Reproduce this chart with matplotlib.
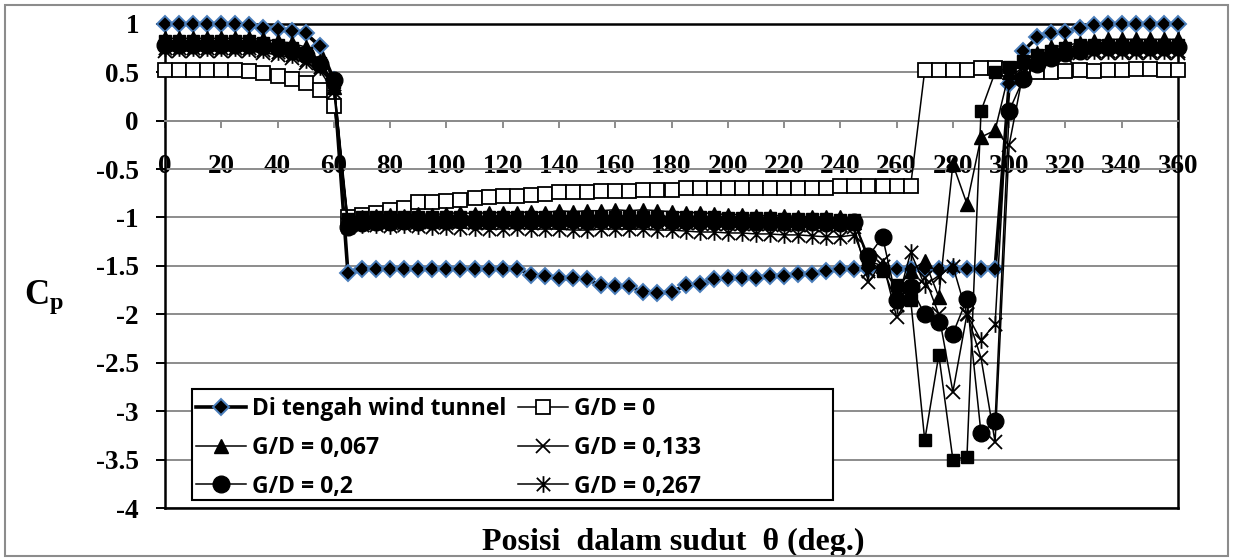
import matplotlib
matplotlib.use("Agg")
import matplotlib.pyplot as plt
from matplotlib.path import Path
from matplotlib.patches import Rectangle

# ---------------- data ----------------
theta = list(range(0, 365, 5))

cp_tengah = [1.00, 1.00, 1.00, 1.00, 1.00, 1.00, 0.99, 0.96, 0.95, 0.93, 0.90, 0.77, 0.42,
             -1.57, -1.53, -1.53, -1.53, -1.53, -1.53, -1.53, -1.53, -1.53, -1.53, -1.53, -1.53, -1.53,
             -1.59, -1.60, -1.63, -1.63, -1.64, -1.70, -1.71, -1.71, -1.77, -1.78, -1.77, -1.70, -1.69,
             -1.64, -1.63, -1.63, -1.62, -1.60, -1.60, -1.58, -1.58, -1.55, -1.53, -1.53,
             -1.53, -1.53, -1.53, -1.53, -1.53, -1.53, -1.53, -1.53, -1.53, -1.53,
             0.38, 0.72, 0.86, 0.90, 0.92, 0.96, 0.99, 1.00, 1.00, 1.00, 1.00, 1.00, 1.00]

cp_gd0 = [0.52, 0.52, 0.52, 0.52, 0.52, 0.52, 0.51, 0.49, 0.46, 0.43, 0.39, 0.32, 0.15,
          -1.00, -0.97, -0.95, -0.92, -0.90, -0.84, -0.84, -0.83, -0.82, -0.80, -0.79, -0.78, -0.78,
          -0.77, -0.76, -0.74, -0.74, -0.74, -0.73, -0.73, -0.73, -0.72, -0.72, -0.72, -0.70, -0.70,
          -0.70, -0.70, -0.70, -0.70, -0.70, -0.70, -0.70, -0.70, -0.70, -0.68, -0.68,
          -0.68, -0.67, -0.67, -0.67, 0.52, 0.52, 0.52, 0.52, 0.54, 0.54,
          0.53, 0.52, 0.50, 0.50, 0.51, 0.52, 0.51, 0.52, 0.52, 0.53, 0.53, 0.52, 0.52]

cp_gd0067 = [0.85, 0.85, 0.85, 0.85, 0.85, 0.85, 0.85, 0.84, 0.82, 0.80, 0.76, 0.62, 0.35,
             -1.05, -1.00, -0.98, -0.97, -0.98, -0.96, -0.97, -0.96, -0.95, -0.96, -0.95, -0.95, -0.95,
             -0.94, -0.95, -0.93, -0.94, -0.93, -0.93, -0.92, -0.93, -0.92, -0.93, -0.94, -0.95, -0.95,
             -0.96, -0.97, -0.97, -0.98, -0.98, -0.98, -0.99, -0.99, -1.00, -1.00, -1.05,
             -1.45, -1.50, -1.75, -1.55, -1.45, -1.82, -0.45, -0.86, -0.17, -0.10,
             0.50, 0.62, 0.70, 0.76, 0.78, 0.80, 0.82, 0.84, 0.84, 0.84, 0.84, 0.84, 0.84]

cp_gd0133 = [0.72, 0.72, 0.72, 0.72, 0.72, 0.72, 0.72, 0.70, 0.68, 0.65, 0.60, 0.52, 0.30,
             -1.08, -1.06, -1.06, -1.05, -1.06, -1.05, -1.05, -1.06, -1.05, -1.06, -1.06, -1.06, -1.05,
             -1.06, -1.06, -1.05, -1.06, -1.06, -1.05, -1.06, -1.06, -1.05, -1.06, -1.06, -1.06, -1.06,
             -1.07, -1.07, -1.07, -1.07, -1.07, -1.08, -1.08, -1.08, -1.08, -1.08, -1.10,
             -1.67, -1.45, -2.03, -1.80, -1.62, -2.00, -2.80, -2.00, -2.45, -3.32,
             -0.25, 0.50, 0.60, 0.64, 0.67, 0.70, 0.70, 0.70, 0.70, 0.70, 0.70, 0.70, 0.70]

cp_gd02 = [0.78, 0.78, 0.78, 0.78, 0.78, 0.78, 0.78, 0.77, 0.75, 0.72, 0.68, 0.58, 0.42,
           -1.10, -1.06, -1.05, -1.05, -1.04, -1.05, -1.04, -1.04, -1.03, -1.04, -1.04, -1.03, -1.04,
           -1.04, -1.03, -1.04, -1.03, -1.04, -1.03, -1.03, -1.04, -1.03, -1.03, -1.04, -1.04, -1.04,
           -1.04, -1.04, -1.05, -1.05, -1.05, -1.05, -1.05, -1.05, -1.06, -1.06, -1.05,
           -1.40, -1.20, -1.85, -1.72, -2.00, -2.08, -2.20, -1.84, -3.23, -3.10,
           0.10, 0.43, 0.58, 0.65, 0.70, 0.72, 0.76, 0.76, 0.76, 0.76, 0.76, 0.76, 0.76]

cp_gd0267 = [0.75, 0.75, 0.75, 0.75, 0.75, 0.75, 0.75, 0.73, 0.71, 0.68, 0.63, 0.55, 0.38,
             -1.10, -1.08, -1.08, -1.09, -1.08, -1.09, -1.10, -1.10, -1.11, -1.11, -1.12, -1.12, -1.11,
             -1.12, -1.12, -1.12, -1.13, -1.13, -1.12, -1.12, -1.12, -1.12, -1.13, -1.13, -1.14, -1.15,
             -1.15, -1.16, -1.16, -1.17, -1.17, -1.18, -1.18, -1.19, -1.20, -1.20, -1.18,
             -1.55, -1.50, -1.90, -1.36, -1.70, -1.60, -1.50, -2.00, -2.27, -2.10,
             0.45, 0.55, 0.62, 0.66, 0.70, 0.72, 0.72, 0.72, 0.72, 0.72, 0.72, 0.72, 0.72]

cp_extra = [0.82, 0.82, 0.82, 0.82, 0.82, 0.82, 0.82, 0.80, 0.78, 0.75, 0.70, 0.60, 0.40,
            -1.02, -1.00, -1.00, -1.00, -1.00, -1.00, -1.00, -1.00, -1.00, -1.00, -1.00, -1.00, -1.00,
            -1.00, -1.00, -1.00, -1.00, -1.00, -1.00, -1.00, -1.00, -1.00, -1.00, -1.00, -1.00, -1.00,
            -1.00, -1.01, -1.01, -1.01, -1.01, -1.02, -1.02, -1.02, -1.02, -1.03, -1.03,
            -1.45, -1.55, -1.70, -1.85, -3.30, -2.42, -3.50, -3.47, 0.10, 0.50,
            0.55, 0.62, 0.68, 0.72, 0.75, 0.78, 0.78, 0.78, 0.78, 0.78, 0.78, 0.78, 0.78]

labels = ["Di tengah wind tunnel", "G/D = 0", "G/D = 0,067",
          "G/D = 0,133", "G/D = 0,2", "G/D = 0,267"]
x_ticks = list(range(0, 380, 20))
y_ticks = [1, 0.5, 0, -0.5, -1, -1.5, -2, -2.5, -3, -3.5, -4]

# ---------------- style ----------------
plt.rcParams['mathtext.fontset'] = 'custom'
plt.rcParams['mathtext.rm'] = 'Liberation Serif'
plt.rcParams['mathtext.bf'] = 'Liberation Serif:bold'

serif_bold = dict(family='Liberation Serif', weight='bold')

asterisk = Path([(-1, -1), (1, 1), (-1, 1), (1, -1), (0, -1.25), (0, 1.25)],
                [Path.MOVETO, Path.LINETO, Path.MOVETO, Path.LINETO, Path.MOVETO, Path.LINETO])

W, H = 1233, 560
fig = plt.figure(figsize=(W / 100, H / 100), dpi=100)
ax_left, ax_right, ax_top, ax_bot = 165, 1178, 23.8, 508
ax = fig.add_axes([ax_left / W, 1 - ax_bot / H, (ax_right - ax_left) / W, (ax_bot - ax_top) / H])

fig.patches.append(Rectangle((5 / W, 4 / H), 1223 / W, 551 / H, transform=fig.transFigure,
                             fill=False, edgecolor='#8c8c8c', linewidth=1.5))

ax.set_xlim(0, 360)
ax.set_ylim(-4, 1)

ax.set_yticks(y_ticks)
ax.yaxis.grid(True, color='#8c8c8c', linewidth=1.4)
ax.set_axisbelow(True)

# series
h1, = ax.plot(theta, cp_tengah, color='black', linewidth=2.6, marker='D', markersize=8,
              markerfacecolor='black', markeredgecolor='#4a7ebb', markeredgewidth=1.4,
              clip_on=False, zorder=3)
h2, = ax.plot(theta, cp_gd0, color='black', linewidth=1.1, marker='s', markersize=10,
              markerfacecolor='white', markeredgecolor='black', markeredgewidth=1.3,
              clip_on=False, zorder=4)
h3, = ax.plot(theta, cp_gd0067, color='black', linewidth=1.1, marker='^', markersize=10,
              markerfacecolor='black', markeredgecolor='black', clip_on=False, zorder=5)
hx, = ax.plot(theta, cp_extra, color='black', linewidth=1.1, marker='s', markersize=9,
              markerfacecolor='black', markeredgecolor='black', clip_on=False, zorder=5)
h4, = ax.plot(theta, cp_gd0133, color='black', linewidth=1.1, marker='x', markersize=10,
              markeredgecolor='black', markeredgewidth=1.3, clip_on=False, zorder=6)
h5, = ax.plot(theta, cp_gd02, color='black', linewidth=1.1, marker='o', markersize=12,
              markerfacecolor='black', markeredgecolor='black', clip_on=False, zorder=7)
h6, = ax.plot(theta, cp_gd0267, color='black', linewidth=1.1, marker=asterisk, markersize=12,
              markeredgecolor='black', markeredgewidth=1.3, clip_on=False, zorder=8)

# spines
for s in ['left', 'top', 'right']:
    ax.spines[s].set_color('black')
    ax.spines[s].set_linewidth(1.8)
ax.spines['bottom'].set_position(('data', 0))
ax.spines['bottom'].set_color('#8c8c8c')
ax.spines['bottom'].set_linewidth(1.4)
ax.axhline(-4, color='black', linewidth=1.8, clip_on=False, zorder=2)

ax.set_xticks(x_ticks)
ax.set_xticklabels([str(v) for v in x_ticks], fontsize=19.5, **serif_bold)
ax.set_yticklabels([('%g' % v) for v in y_ticks], fontsize=19.5, **serif_bold)
ax.tick_params(axis='x', direction='out', length=5, width=1.4, color='#8c8c8c', pad=19)
ax.tick_params(axis='y', direction='out', length=6.8, width=1.4, color='black', pad=12)

ax.set_ylabel(r'$\mathbf{C_p}$', fontsize=25, rotation=0, ha='center', va='center')
ax.yaxis.set_label_coords(-0.1195, 0.436)
ax.set_xlabel('Posisi  dalam sudut  \u03b8 (deg.)', fontsize=23, va='center', **serif_bold)
ax.xaxis.set_label_coords(0.5015, -0.0702)

# legend: white box with black border, entries laid out row-wise
def fx(px):
    return (px - ax_left) / (ax_right - ax_left)

def fy(py):
    return (ax_bot - py) / (ax_bot - ax_top)

box = Rectangle((fx(192), fy(500)), fx(833) - fx(192), fy(389) - fy(500),
                transform=ax.transAxes, facecolor='white', edgecolor='black',
                linewidth=1.5, zorder=19, clip_on=False)
ax.add_patch(box)

leg = ax.legend([h1, h3, h5, h2, h4, h6],
                [labels[0], labels[2], labels[4], labels[1], labels[3], labels[5]],
                ncol=2, loc='lower left', bbox_to_anchor=(fx(196), fy(498.5)),
                frameon=False, borderpad=0, borderaxespad=0, handlelength=2.2,
                handletextpad=0.25, columnspacing=0.5, labelspacing=0.64,
                prop=dict(family='Open Sans', weight='bold', size=16.5))
leg.set_zorder(20)

fig.savefig('out.png', dpi=100)
